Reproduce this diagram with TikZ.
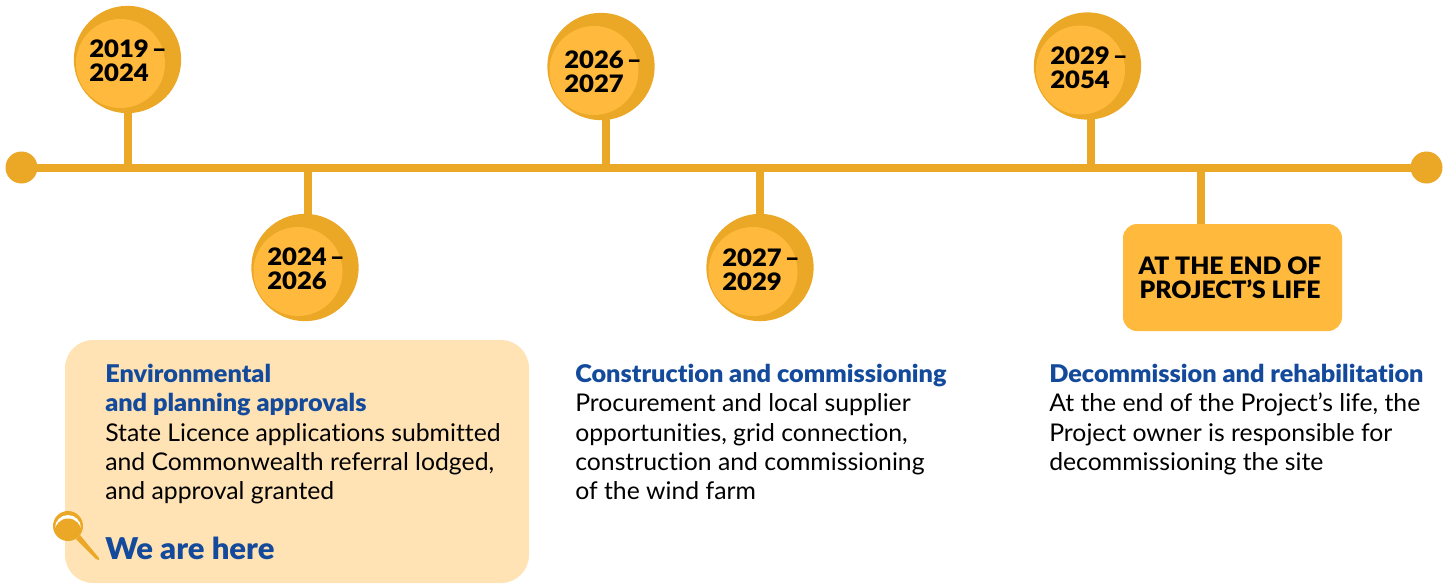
\documentclass[tikz,border=0pt]{standalone}
\usepackage{fontspec}
\usetikzlibrary{backgrounds}
\setmainfont{Lato}[Ligatures=NoCommon,FakeStretch=1.015]
\newfontfamily\lblack{Lato Black}[Ligatures=NoCommon,FakeStretch=1.035]
\newfontfamily\ldate{Lato Black}[FakeStretch=1.07,WordSpace=0.5]
\newfontfamily\lbox{Lato Black}[FakeStretch=1.03]
\definecolor{dark}{HTML}{EBA726}
\definecolor{amber}{HTML}{FFBA3E}
\definecolor{pale}{HTML}{FFE3B5}
\definecolor{navy}{HTML}{134A9B}
\tikzset{
  x=0.75pt,y=-0.75pt,
  line/.style={draw=dark,line width=6pt},
  stem/.style={draw=dark,line width=6pt},
  dot/.style={circle,fill=dark,minimum size=24pt,inner sep=0},
  disc/.style={circle,fill=dark,minimum size=80.5pt,inner sep=0,path picture={
     \fill[amber] ([shift={(-7,4)}]path picture bounding box.center) circle (44.5);}},
  date/.style={anchor=north west,inner sep=0,align=left,font=\ldate\fontsize{18}{18}\selectfont,text=black},
  head/.style={anchor=north west,inner sep=0,align=left,text=black,font=\fontsize{18.3}{22.1}\selectfont},
}
\newcommand{\hd}[1]{{\color{navy}\lblack #1}}
\begin{document}
\begin{tikzpicture}
\useasboundingbox (0,0) rectangle (1453,583);
\node[dot] (s) at (21.5,167.5) {};
\node[dot] (e) at (1426.5,167.5) {};
\coordinate (t1) at (127.5,167.5);
\coordinate (t2) at (307.5,167.5);
\coordinate (t3) at (606,167.5);
\coordinate (t4) at (760,167.5);
\coordinate (t5) at (1091,167.5);
\coordinate (t6) at (1200.5,167.5);
\node[disc] (c1) at (127.5,59.5) {};
\node[disc] (c2) at (305,267.5) {};
\node[disc] (c3) at (601,66.5) {};
\node[disc] (c4) at (760,267.5) {};
\node[disc] (c5) at (1087.5,66) {};
\node[fill=amber,rounded corners=10.5pt,minimum width=164.25pt,minimum height=80.25pt,inner sep=0] (box) at (1232.5,277.5) {};
\node[inner sep=0,align=center,font=\lbox\fontsize{18}{18}\selectfont] (boxtext) at (1230,277.5) {AT THE END OF\\PROJECT’S LIFE};
\begin{scope}[on background layer]
\node[fill=pale,rounded corners=21pt,minimum width=348pt,minimum height=182.25pt,inner sep=0] (panel) at (297,461.5) {};
\draw[line] (s.center) -- (e.center);
\draw[stem] (t1) -- (t1 |- c1);
\draw[stem] (t2) -- (t2 |- c2);
\draw[stem] (t3) -- (t3 |- c3);
\draw[stem] (t4) -- (t4 |- c4);
\draw[stem] (t5) -- (t5 |- c5);
\draw[stem] (t6) -- (t6 |- box);
\end{scope}
\node[date] (d1) at (89,40) {2019 –\\2024};
\node[date] (d2) at (267,248) {2024 –\\2026};
\node[date] (d3) at (564,51) {2026 –\\2027};
\node[date] (d4) at (722,249) {2027 –\\2029};
\node[date] (d5) at (1050,47) {2029 –\\2054};
\node[head] (a) at (105,363.5) {\hd{Environmental}\\\hd{and planning approvals}\\State Licence applications submitted\\and Commonwealth referral lodged,\\and approval granted};
\node[head] (b) at (575,363.5) {\hd{Construction and commissioning}\\Procurement and local supplier\\opportunities, grid connection,\\construction and commissioning\\of the wind farm};
\node[head] (c) at (1049,363.5) {\hd{Decommission and rehabilitation}\\At the end of the Project’s life, the\\Project owner is responsible for\\decommissioning the site};
\node[anchor=north west,inner sep=0,text=navy,font=\lblack\fontsize{22.5}{26}\selectfont] (here) at (105,536.5) {We are here};
% magnifier
\fill[dark] (76,539) -- (80,535) -- (99,558) -- (99,560) -- (96,559) -- cycle;
\fill[dark] (68,526) circle (15);
\begin{scope}
\clip (50,505) rectangle (86,527);
\fill[white] (68,528) circle (13);
\fill[dark] (68,532) circle (13.5);
\end{scope}
\end{tikzpicture}
\end{document}
